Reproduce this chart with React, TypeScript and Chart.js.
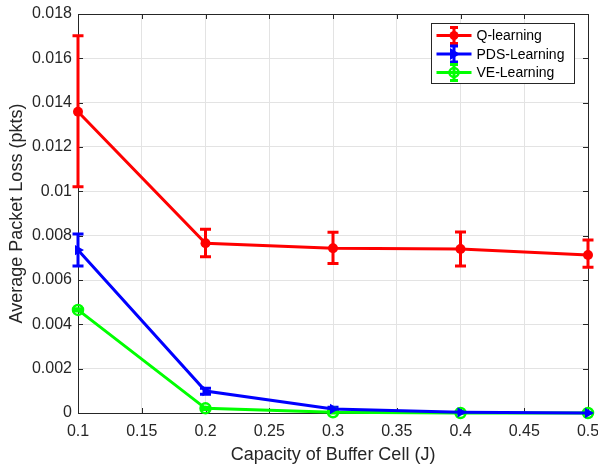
import React, { useEffect, useRef } from "react";
import { Chart, registerables } from "chart.js";

Chart.register(...registerables);

// Buffer cell capacity (J)
const capacities = [0.1, 0.2, 0.3, 0.4, 0.5];

// Average packet loss and error bar bounds per method
const qLearning = [0.01359, 0.00766, 0.00743, 0.0074, 0.00713];
const qLow = [0.01021, 0.00705, 0.00675, 0.00663, 0.00658];
const qHigh = [0.01702, 0.00829, 0.00815, 0.00817, 0.0078];

const pdsLearning = [0.00735, 0.00099, 0.00018, 0.00003, 0.0];
const pdsLow = [0.00663, 0.00085, 0.0001, 0.0, 0.0];
const pdsHigh = [0.00808, 0.00112, 0.00026, 0.00006, 0.00002];

const veLearning = [0.00465, 0.00021, 0.00003, 0.0, 0.0];
const veLow = [0.0046, 0.00016, 0.0, 0.0, 0.0];
const veHigh = [0.0047, 0.00026, 0.00006, 0.00003, 0.00003];

const xTicks = [0.1, 0.15, 0.2, 0.25, 0.3, 0.35, 0.4, 0.45, 0.5];
const yTicks = [0, 0.002, 0.004, 0.006, 0.008, 0.01, 0.012, 0.014, 0.016, 0.018];

const seriesNames = ["Q-learning", "PDS-Learning", "VE-Learning"];
const seriesColors = ["#ff0000", "#0000ff", "#00ff00"];

const FONT = "'Liberation Sans', Arial, Helvetica, sans-serif";
const AXIS_COLOR = "#262626";

const lows = [qLow, pdsLow, veLow];
const highs = [qHigh, pdsHigh, veHigh];

function toPoints(values: number[]) {
  return values.map((y, i) => ({ x: capacities[i], y }));
}

function drawMarker(ctx: CanvasRenderingContext2D, kind: number, x: number, y: number, color: string) {
  ctx.save();
  ctx.fillStyle = color;
  ctx.strokeStyle = color;
  ctx.lineWidth = 2.5;
  ctx.beginPath();
  if (kind === 0) {
    ctx.arc(x, y, 4.5, 0, Math.PI * 2);
    ctx.fill();
  } else if (kind === 1) {
    ctx.moveTo(x + 6, y);
    ctx.lineTo(x - 4, y - 6);
    ctx.lineTo(x - 4, y + 6);
    ctx.closePath();
    ctx.fill();
  } else {
    ctx.arc(x, y, 4.5, 0, Math.PI * 2);
    ctx.stroke();
  }
  ctx.restore();
}

const errorBarPlugin = {
  id: "errorBars",
  beforeDatasetsDraw(chart: any) {
    const ctx = chart.ctx as CanvasRenderingContext2D;
    const xs = chart.scales.x;
    const ys = chart.scales.y;
    ctx.save();
    lows.forEach((lo, s) => {
      ctx.strokeStyle = seriesColors[s];
      ctx.lineWidth = 3;
      capacities.forEach((c, i) => {
        const px = xs.getPixelForValue(c);
        const y1 = ys.getPixelForValue(lo[i]);
        const y2 = ys.getPixelForValue(highs[s][i]);
        ctx.beginPath();
        ctx.moveTo(px, y1);
        ctx.lineTo(px, y2);
        ctx.moveTo(px - 5.5, y1);
        ctx.lineTo(px + 5.5, y1);
        ctx.moveTo(px - 5.5, y2);
        ctx.lineTo(px + 5.5, y2);
        ctx.stroke();
      });
    });
    ctx.restore();
  },
};

const frameAndLegendPlugin = {
  id: "frameAndLegend",
  beforeDatasetsDraw(chart: any) {
    const ctx = chart.ctx as CanvasRenderingContext2D;
    const { left, right, top, bottom } = chart.chartArea;
    const xs = chart.scales.x;
    const ys = chart.scales.y;
    ctx.save();
    ctx.strokeStyle = AXIS_COLOR;
    ctx.lineWidth = 1;
    ctx.beginPath();
    // inward tick marks on all four sides
    xTicks.forEach((v) => {
      const px = Math.round(xs.getPixelForValue(v)) + 0.5;
      ctx.moveTo(px, bottom);
      ctx.lineTo(px, bottom - 5);
      ctx.moveTo(px, top);
      ctx.lineTo(px, top + 5);
    });
    yTicks.forEach((v) => {
      const py = Math.round(ys.getPixelForValue(v)) + 0.5;
      ctx.moveTo(left, py);
      ctx.lineTo(left + 5, py);
      ctx.moveTo(right, py);
      ctx.lineTo(right - 5, py);
    });
    ctx.stroke();
    ctx.strokeRect(Math.round(left) + 0.5, Math.round(top) + 0.5, Math.round(right - left), Math.round(bottom - top));
    ctx.restore();
  },
  afterDraw(chart: any) {
    const ctx = chart.ctx as CanvasRenderingContext2D;
    const { right, top } = chart.chartArea;
    const boxW = 143;
    const boxH = 60;
    const bx = Math.round(right - 14 - boxW) + 0.5;
    const by = Math.round(top + 9) + 0.5;
    ctx.save();
    ctx.fillStyle = "#ffffff";
    ctx.fillRect(bx, by, boxW, boxH);
    ctx.strokeStyle = AXIS_COLOR;
    ctx.lineWidth = 1;
    ctx.strokeRect(bx, by, boxW, boxH);
    ctx.font = `14px ${FONT}`;
    ctx.textBaseline = "middle";
    seriesNames.forEach((name, i) => {
      const cy = by + 12 + i * 18.5;
      const x0 = bx + 5;
      const x1 = bx + 40;
      const cx = (x0 + x1) / 2;
      const color = seriesColors[i];
      ctx.strokeStyle = color;
      ctx.lineWidth = 3;
      ctx.beginPath();
      ctx.moveTo(x0, cy);
      ctx.lineTo(x1, cy);
      ctx.moveTo(cx, cy - 8);
      ctx.lineTo(cx, cy + 8);
      ctx.moveTo(cx - 4, cy - 8);
      ctx.lineTo(cx + 4, cy - 8);
      ctx.moveTo(cx - 4, cy + 8);
      ctx.lineTo(cx + 4, cy + 8);
      ctx.stroke();
      drawMarker(ctx, i, cx, cy, color);
      ctx.fillStyle = "#000000";
      ctx.fillText(name, bx + 45, cy + 1);
    });
    ctx.restore();
  },
};

function fmt(v: number) {
  return parseFloat(Number(v).toFixed(4)).toString();
}

export default function App() {
  const canvasRef = useRef<HTMLCanvasElement | null>(null);

  useEffect(() => {
    document.body.style.margin = "0";
    const canvas = canvasRef.current;
    if (!canvas) return;

    const chart = new Chart(canvas, {
      type: "line",
      data: {
        datasets: [
          {
            label: seriesNames[0],
            data: toPoints(qLearning),
            borderColor: seriesColors[0],
            backgroundColor: seriesColors[0],
            borderWidth: 3,
            pointStyle: "circle",
            pointRadius: 5,
            pointBorderWidth: 0,
            clip: false,
          },
          {
            label: seriesNames[1],
            data: toPoints(pdsLearning),
            borderColor: seriesColors[1],
            backgroundColor: seriesColors[1],
            borderWidth: 3,
            pointStyle: "triangle",
            pointRotation: 90,
            pointRadius: 6,
            pointBorderWidth: 0,
            clip: false,
          },
          {
            label: seriesNames[2],
            data: toPoints(veLearning),
            borderColor: seriesColors[2],
            backgroundColor: "rgba(0,0,0,0)",
            borderWidth: 3,
            pointStyle: "circle",
            pointRadius: 5,
            pointBorderWidth: 2.5,
            clip: false,
          },
        ],
      },
      options: {
        animation: false,
        responsive: false,
        maintainAspectRatio: false,
        layout: { padding: { left: 0, right: 10, top: 14, bottom: 0 } },
        plugins: {
          legend: { display: false },
          tooltip: { enabled: false },
        },
        scales: {
          x: {
            type: "linear",
            min: 0.1,
            max: 0.5,
            afterBuildTicks(scale: any) {
              scale.ticks = xTicks.map((v) => ({ value: v }));
            },
            afterFit(scale: any) {
              scale.height = 53;
              scale.paddingLeft = 0;
              scale.paddingRight = 0;
            },
            grid: { color: "#e3e3e3", lineWidth: 1, drawTicks: false },
            border: { display: false },
            ticks: {
              color: AXIS_COLOR,
              font: { family: FONT, size: 16 },
              padding: 9,
              maxRotation: 0,
              autoSkip: false,
              callback: (v: any) => fmt(v),
            },
            title: {
              display: true,
              text: "Capacity of Buffer Cell (J)",
              color: AXIS_COLOR,
              font: { family: FONT, size: 18 },
              padding: { top: 0, bottom: 0 },
            },
          },
          y: {
            type: "linear",
            min: 0,
            max: 0.018,
            afterBuildTicks(scale: any) {
              scale.ticks = yTicks.map((v) => ({ value: v }));
            },
            afterFit(scale: any) {
              scale.width = 78;
              scale.paddingTop = 0;
              scale.paddingBottom = 0;
            },
            grid: { color: "#e3e3e3", lineWidth: 1, drawTicks: false },
            border: { display: false },
            ticks: {
              color: AXIS_COLOR,
              font: { family: FONT, size: 16 },
              padding: 6,
              autoSkip: false,
              callback: (v: any) => fmt(v),
            },
            title: {
              display: true,
              text: "Average Packet Loss (pkts)",
              color: AXIS_COLOR,
              font: { family: FONT, size: 18 },
              padding: { top: 6, bottom: 0 },
            },
          },
        },
      },
      plugins: [frameAndLegendPlugin, errorBarPlugin],
    });

    return () => chart.destroy();
  }, []);

  return (
    <div style={{ width: 598, height: 466, background: "#ffffff" }}>
      <canvas ref={canvasRef} width={598} height={466} style={{ display: "block" }} />
    </div>
  );
}
